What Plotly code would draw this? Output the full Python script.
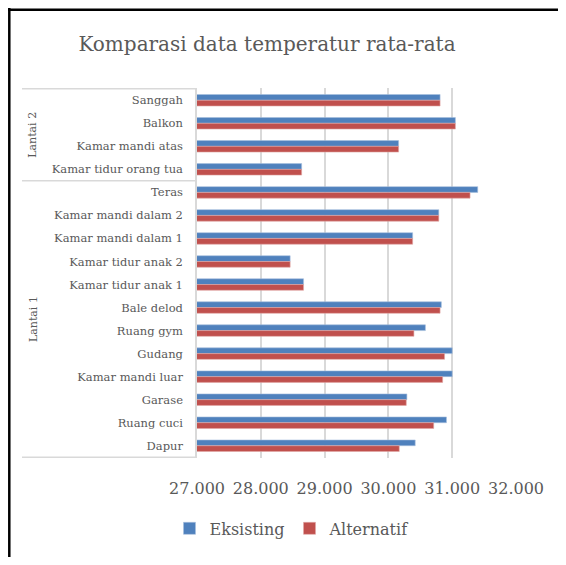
import plotly.graph_objects as go

# Categories, top to bottom
categories = ["Sanggah", "Balkon", "Kamar mandi atas", "Kamar tidur orang tua",
              "Teras", "Kamar mandi dalam 2", "Kamar mandi dalam 1", "Kamar tidur anak 2",
              "Kamar tidur anak 1", "Bale delod", "Ruang gym", "Gudang",
              "Kamar mandi luar", "Garase", "Ruang cuci", "Dapur"]
group_names = ["Lantai 2", "Lantai 1"]
group_sizes = [4, 12]

eksisting = [30.81, 31.05, 30.16, 28.64,
             31.40, 30.79, 30.38, 28.46,
             28.67, 30.83, 30.58, 31.00,
             31.00, 30.29, 30.91, 30.42]
alternatif = [30.81, 31.05, 30.16, 28.64,
              31.28, 30.79, 30.38, 28.46,
              28.67, 30.81, 30.40, 30.88,
              30.85, 30.28, 30.71, 30.17]
x_ticks = [27, 28, 29, 30, 31, 32]

FONT = "DejaVu Serif"
TXT = "#595959"
OFF = 8  # page body margin
W, H = 550, 549
ML, MR, MT, MB = 189, 42, 80, 96
PW, PH = W - ML - MR, H - MT - MB

def px_x(p):
    # reference pixel -> paper x
    return (p - OFF - ML) / PW

def px_y(p):
    return (H - MB - (p - OFF)) / PH

fig = go.Figure()
fig.add_trace(go.Bar(y=categories, x=eksisting, name="Eksisting", orientation="h",
                     marker=dict(color="#4F81BD", line=dict(width=0.6, color="#A7C0DE"))))
fig.add_trace(go.Bar(y=categories, x=alternatif, name="Alternatif", orientation="h",
                     marker=dict(color="#C0504D", line=dict(width=0.6, color="#E0A8A6"))))

shapes = []
bounds = [-0.5]
for s in group_sizes:
    bounds.append(bounds[-1] + s)
for b in bounds:
    shapes.append(dict(type="line", xref="paper", yref="y", x0=px_x(22), x1=0,
                       y0=b, y1=b, line=dict(color="#D9D9D9", width=1.5)))
# outer chart frame (left and top edges)
shapes.append(dict(type="line", xref="paper", yref="paper", x0=px_x(9.3), x1=px_x(9.3),
                   y0=px_y(7), y1=px_y(700), line=dict(color="#000000", width=2.5)))
shapes.append(dict(type="line", xref="paper", yref="paper", x0=px_x(8), x1=px_x(700),
                   y0=px_y(9), y1=px_y(9), line=dict(color="#000000", width=2.5)))

annotations = []
for name, b0, b1 in zip(group_names, bounds[:-1], bounds[1:]):
    annotations.append(dict(text=name, xref="paper", yref="y", x=px_x(33),
                            y=(b0 + b1) / 2, textangle=-90, showarrow=False,
                            font=dict(family=FONT, size=11, color=TXT),
                            xanchor="center", yanchor="middle"))

fig.update_layout(
    width=W, height=H,
    margin=dict(l=ML, r=MR, t=MT, b=MB),
    paper_bgcolor="white", plot_bgcolor="white",
    barmode="group", bargap=0.5, bargroupgap=0,
    title=dict(text="Komparasi data temperatur rata-rata", xref="container",
               x=(267 - OFF) / W, xanchor="center",
               yref="container", y=1 - (44 - OFF) / H, yanchor="middle",
               font=dict(family=FONT, size=20, color=TXT)),
    font=dict(family=FONT, color=TXT),
    legend=dict(orientation="h", x=px_x(292), xanchor="center", y=px_y(532),
                yanchor="middle", font=dict(family=FONT, size=16, color=TXT),
                itemwidth=30, traceorder="normal"),
    shapes=shapes,
    annotations=annotations,
    showlegend=True,
)
fig.update_xaxes(range=[27, 32], tickvals=x_ticks, tickformat=".3f",
                 showgrid=True, gridcolor="#D9D9D9", gridwidth=1.5,
                 zeroline=False, showline=False, ticks="",
                 ticklabelstandoff=19,
                 tickfont=dict(family=FONT, size=16, color=TXT))
fig.update_yaxes(type="category", categoryorder="array", categoryarray=categories,
                 autorange="reversed", showgrid=False, showline=True,
                 linecolor="#D9D9D9", linewidth=1.5, ticks="",
                 ticklabelstandoff=10,
                 tickfont=dict(family=FONT, size=11.5, color=TXT))

fig.write_html("out.html")
